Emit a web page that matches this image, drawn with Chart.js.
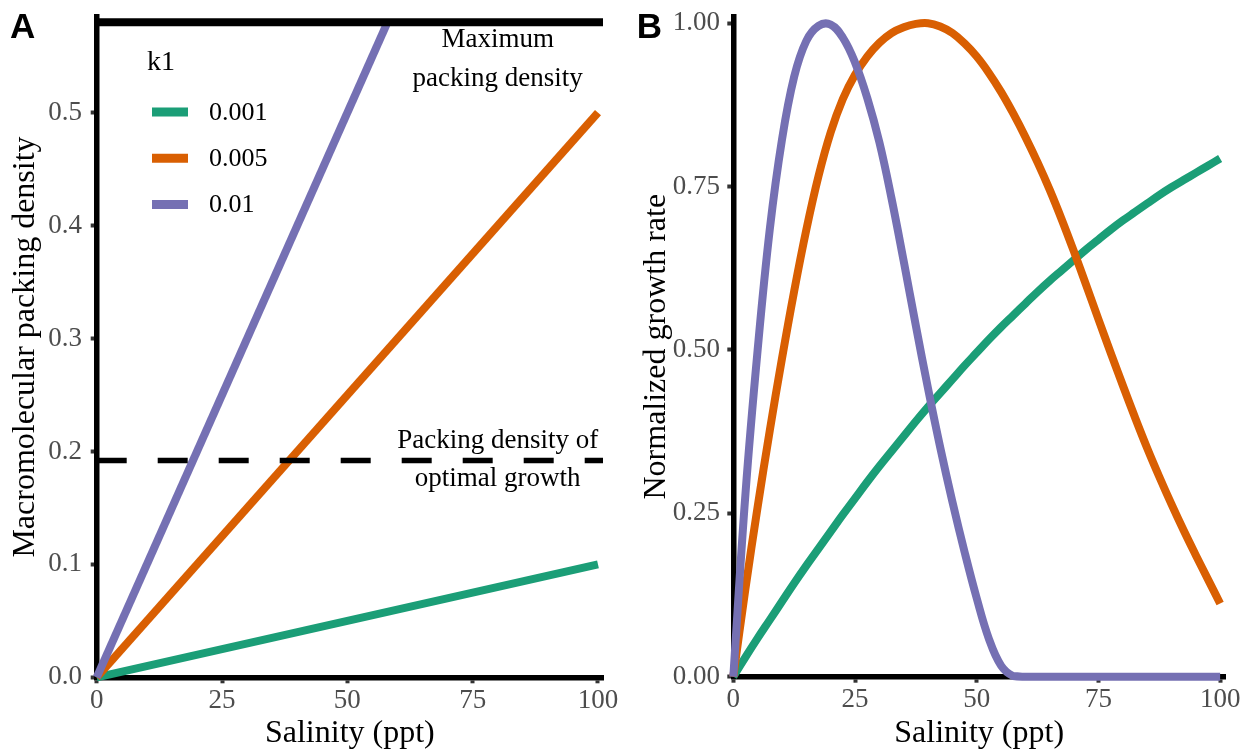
<!DOCTYPE html>
<html>
<head>
<meta charset="utf-8">
<script src="https://cdn.jsdelivr.net/npm/chart.js@4.4.0/dist/chart.umd.min.js"></script>
<style>
  html, body { margin: 0; padding: 0; background: #ffffff; width: 1250px; height: 752px; overflow: hidden; }
  .panel { position: absolute; top: 0; width: 625px; height: 752px; }
  #wrapA { left: 0; }
  #wrapB { left: 625px; }
</style>
</head>
<body>
<div class="panel" id="wrapA"><canvas id="chartA" width="625" height="752"></canvas></div>
<div class="panel" id="wrapB"><canvas id="chartB" width="625" height="752"></canvas></div>
<script>
// ---------------- data ----------------
const k1Labels = ['0.001', '0.005', '0.01'];
const k1Colors = ['#1b9e77', '#d95f02', '#7570b3'];

const xTickValues = [0, 25, 50, 75, 100];
const xTickLabels = ['0', '25', '50', '75', '100'];
const yTickValuesA = [0, 0.1, 0.2, 0.3, 0.4, 0.5];
const yTickLabelsA = ['0.0', '0.1', '0.2', '0.3', '0.4', '0.5'];
const yTickValuesB = [0, 0.25, 0.5, 0.75, 1];
const yTickLabelsB = ['0.00', '0.25', '0.50', '0.75', '1.00'];

const salinityLimits = [0, 101];
const packingLimits = [0, 0.585];
const growthLimits = [0, 1.01];

// Panel A: macromolecular packing density vs salinity
const packingSalinity = [0, 100];
const packingK0001 = [0, 0.10];
const packingK0005 = [0, 0.50];
const packingSalinityK001 = [0, 58];
const packingK001 = [0, 0.58];
const maxPackingDensity = 0.58;
const optimalPackingDensity = 0.192;
const refLineSalinity = [0, 101];

// Panel B: normalized growth rate vs salinity
const growthSalinity = [0, 2.5, 5, 7.5, 10, 12.5, 15, 17.5, 20, 22.5, 25, 27.5, 30, 32.5, 35, 37.5, 40,
  42.5, 45, 47.5, 50, 52.5, 55, 57.5, 60, 62.5, 65, 67.5, 70, 72.5, 75, 77.5, 80, 82.5, 85, 87.5, 90,
  92.5, 95, 97.5, 100];
const growthK0001 = [0, 0.030, 0.059, 0.087, 0.115, 0.143, 0.170, 0.196, 0.222, 0.248, 0.273, 0.298,
  0.322, 0.345, 0.368, 0.391, 0.413, 0.434, 0.455, 0.476, 0.496, 0.516, 0.535, 0.553, 0.571, 0.589,
  0.606, 0.622, 0.638, 0.654, 0.669, 0.684, 0.698, 0.711, 0.724, 0.737, 0.749, 0.760, 0.771, 0.782, 0.793];
const growthK0005 = [0, 0.135, 0.260, 0.377, 0.487, 0.590, 0.684, 0.766, 0.833, 0.884, 0.921, 0.949,
  0.970, 0.985, 0.994, 0.999, 1.000, 0.995, 0.985, 0.969, 0.949, 0.924, 0.895, 0.862, 0.826, 0.787,
  0.745, 0.699, 0.650, 0.599, 0.547, 0.496, 0.446, 0.397, 0.350, 0.306, 0.264, 0.224, 0.186, 0.149, 0.112];
const growthK001 = [0, 0.280, 0.500, 0.685, 0.822, 0.918, 0.973, 0.996, 0.998, 0.978, 0.940, 0.886,
  0.818, 0.732, 0.636, 0.537, 0.441, 0.351, 0.268, 0.191, 0.120, 0.058, 0.017, 0.001, 0, 0, 0, 0, 0, 0,
  0, 0, 0, 0, 0, 0, 0, 0, 0, 0, 0];

// ---------------- text ----------------
const xTitle = 'Salinity (ppt)';
const yTitleA = 'Macromolecular packing density';
const yTitleB = 'Normalized growth rate';
const legendTitle = 'k1';
const maxDensityText = ['Maximum', 'packing density'];
const optimalDensityText = ['Packing density of', 'optimal growth'];

// ---------------- styling ----------------
const SERIF = "'Liberation Serif', 'Times New Roman', serif";
const SANS = "'Liberation Sans', Arial, sans-serif";
const TICK_COLOR = '#4d4d4d';
const LINE_W = 8;

function pts(xs, ys) { return xs.map((x, i) => ({ x: x, y: ys[i] })); }

function fixBox(prop, size) {
  return (s) => {
    s[prop] = size;
    s.paddingTop = 0; s.paddingBottom = 0; s.paddingLeft = 0; s.paddingRight = 0;
  };
}

function axisCommon(tickValues, tickLabels, fitFn, titleText, titlePadding, tickPadding, extra) {
  return Object.assign({
    type: 'linear',
    afterBuildTicks: (s) => { s.ticks = tickValues.map(v => ({ value: v })); },
    afterFit: fitFn,
    ticks: {
      callback: (v) => { const i = tickValues.indexOf(v); return i >= 0 ? tickLabels[i] : ''; },
      color: TICK_COLOR,
      font: { family: SERIF, size: 27 },
      padding: tickPadding,
      autoSkip: false,
      maxRotation: 0,
      minRotation: 0
    },
    grid: { display: true, drawOnChartArea: false, drawTicks: true, tickLength: 6, tickWidth: 4, tickColor: '#333333' },
    border: { display: true, color: '#000000', width: 5.5 },
    title: { display: true, text: titleText, color: '#000000', font: { family: SERIF, size: 32 }, padding: titlePadding },
    z: 1
  }, extra);
}

function lineDs(data, color, order, extra) {
  return Object.assign({
    data: data, borderColor: color, backgroundColor: color, borderWidth: LINE_W,
    pointRadius: 0, pointHoverRadius: 0, fill: false, borderCapStyle: 'butt', borderJoinStyle: 'round',
    clip: false, order: order, tension: 0
  }, extra || {});
}

// ---------------- panel A ----------------
const panelAPlugin = {
  id: 'panelA',
  afterDraw(chart) {
    const { ctx, scales: { x, y } } = chart;
    ctx.save();
    ctx.fillStyle = '#000000';
    const yMax = y.getPixelForValue(maxPackingDensity);
    const yOpt = y.getPixelForValue(optimalPackingDensity);
    const cx = x.getPixelForValue(80);
    ctx.font = `27px ${SERIF}`;
    ctx.textAlign = 'center';
    ctx.textBaseline = 'alphabetic';
    ctx.fillText(maxDensityText[0], cx, yMax + 24.6);
    ctx.fillText(maxDensityText[1], cx, yMax + 63.6);
    ctx.fillText(optimalDensityText[0], cx, yOpt - 12);
    ctx.fillText(optimalDensityText[1], cx, yOpt + 26);
    // legend
    ctx.textAlign = 'left';
    ctx.font = `28px ${SERIF}`;
    ctx.fillText(legendTitle, 147, 70);
    ctx.font = `26px ${SERIF}`;
    ctx.textBaseline = 'middle';
    k1Labels.forEach((lab, i) => {
      const ly = 112 + i * 46.3;
      ctx.strokeStyle = k1Colors[i];
      ctx.lineWidth = 9;
      ctx.lineCap = 'butt';
      ctx.beginPath();
      ctx.moveTo(152, ly);
      ctx.lineTo(188, ly);
      ctx.stroke();
      ctx.fillStyle = '#000000';
      ctx.fillText(lab, 209, ly + 1);
    });
    // panel letter
    ctx.font = `bold 35px ${SANS}`;
    ctx.textAlign = 'left';
    ctx.textBaseline = 'alphabetic';
    ctx.fillText('A', 10, 38);
    ctx.restore();
  }
};

new Chart(document.getElementById('chartA'), {
  type: 'line',
  data: {
    datasets: [
      lineDs(pts(refLineSalinity, [maxPackingDensity, maxPackingDensity]), '#000000', 0, { borderWidth: 8 }),
      lineDs(pts(refLineSalinity, [optimalPackingDensity, optimalPackingDensity]), '#000000', 0, { borderWidth: 5.5, borderDash: [30, 31] }),
      lineDs(pts(packingSalinityK001, packingK001), k1Colors[2], 1),
      lineDs(pts(packingSalinity, packingK0005), k1Colors[1], 2),
      lineDs(pts(packingSalinity, packingK0001), k1Colors[0], 3)
    ]
  },
  options: {
    responsive: false, animation: false, devicePixelRatio: 1, events: [],
    layout: { padding: { left: 0, top: 16.7, right: 22, bottom: 0 } },
    plugins: { legend: { display: false }, tooltip: { enabled: false } },
    scales: {
      x: axisCommon(xTickValues, xTickLabels, fixBox('height', 74.7), xTitle, { top: 0, bottom: -1 }, 1,
        { min: salinityLimits[0], max: salinityLimits[1], position: 'bottom' }),
      y: axisCommon(yTickValuesA, yTickLabelsA, fixBox('width', 96.7), yTitleA, { top: 6, bottom: 0 }, 8.7,
        { min: packingLimits[0], max: packingLimits[1], position: 'left' })
    }
  },
  plugins: [panelAPlugin]
});

// ---------------- panel B ----------------
const panelBPlugin = {
  id: 'panelB',
  afterDraw(chart) {
    const { ctx } = chart;
    ctx.save();
    ctx.fillStyle = '#000000';
    ctx.font = `bold 35px ${SANS}`;
    ctx.textAlign = 'left';
    ctx.textBaseline = 'alphabetic';
    ctx.fillText('B', 11.7, 37.5);
    ctx.restore();
  }
};

const smooth = { tension: 0.4, cubicInterpolationMode: 'default' };
new Chart(document.getElementById('chartB'), {
  type: 'line',
  data: {
    datasets: [
      lineDs(pts(growthSalinity, growthK001), k1Colors[2], 1, smooth),
      lineDs(pts(growthSalinity, growthK0005), k1Colors[1], 2, smooth),
      lineDs(pts(growthSalinity, growthK0001), k1Colors[0], 3, smooth)
    ]
  },
  options: {
    responsive: false, animation: false, devicePixelRatio: 1, events: [],
    layout: { padding: { left: 0, top: 16.7, right: 25, bottom: 0 } },
    plugins: { legend: { display: false }, tooltip: { enabled: false } },
    scales: {
      x: axisCommon(xTickValues, xTickLabels, fixBox('height', 75.3), xTitle, { top: 0, bottom: -1 }, 1,
        { min: salinityLimits[0], max: salinityLimits[1], position: 'bottom' }),
      y: axisCommon(yTickValuesB, yTickLabelsB, fixBox('width', 108.3), yTitleB, { top: 12, bottom: 0 }, 7.3,
        { min: growthLimits[0], max: growthLimits[1], position: 'left' })
    }
  },
  plugins: [panelBPlugin]
});
</script>
</body>
</html>
